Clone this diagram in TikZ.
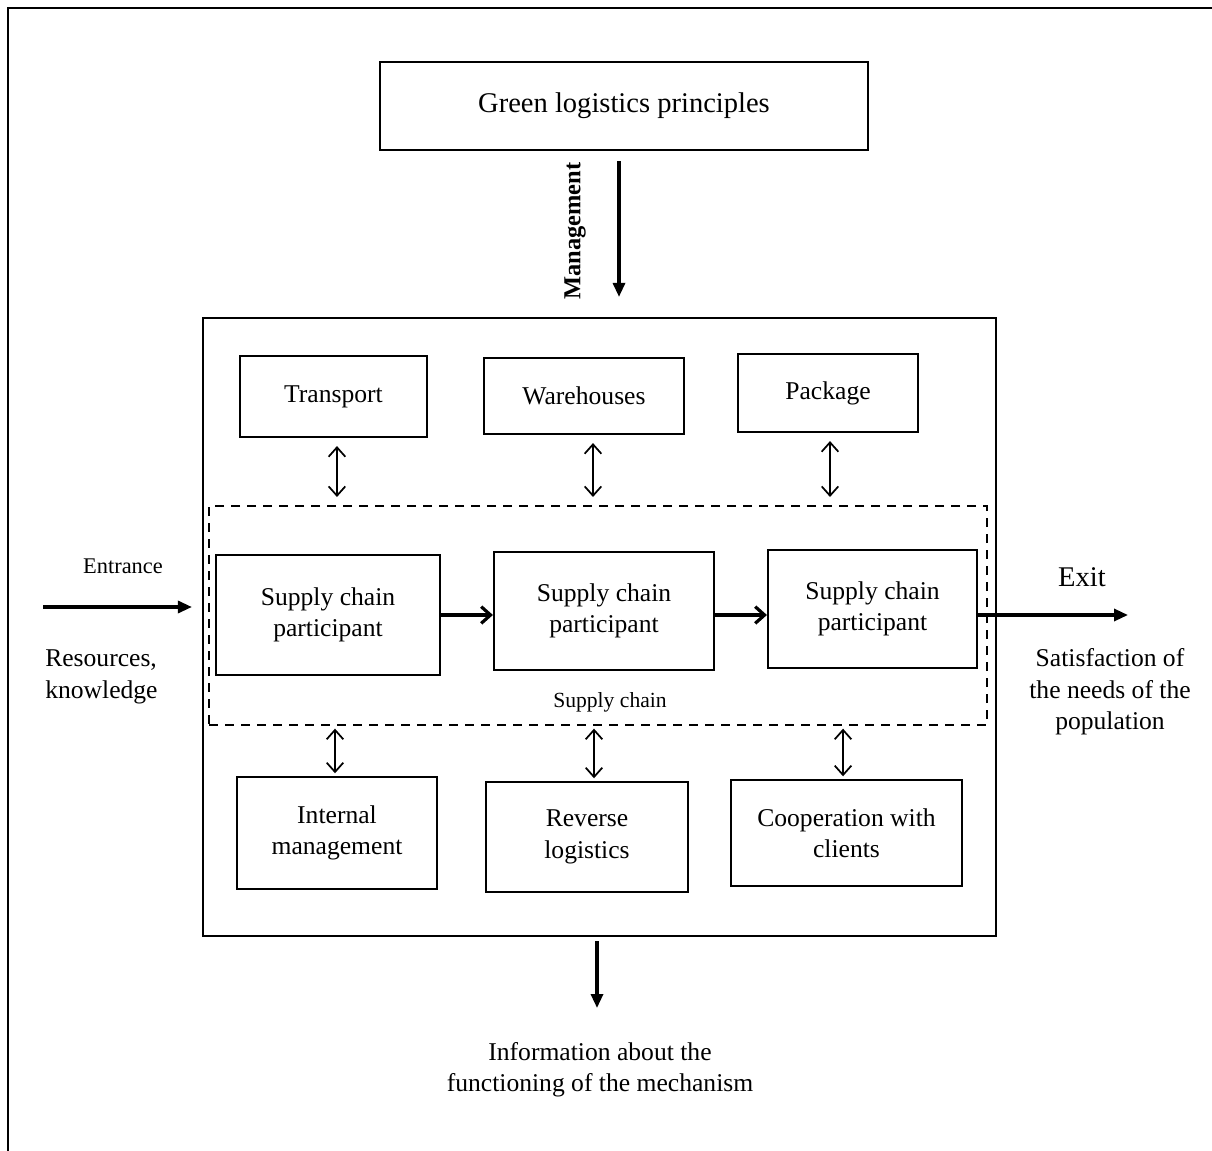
\documentclass[tikz,border=0pt]{standalone}
\usepackage{fontspec}
\setmainfont{Liberation Serif}
\usepackage{xcolor}
\usetikzlibrary{arrows.meta}

\newcommand{\bigtext}{\fontsize{21.4}{26}\selectfont}
\newcommand{\maintext}{\fontsize{19.2}{23.5}\selectfont}
\newcommand{\smalltext}{\fontsize{16.2}{20}\selectfont}

\begin{document}
\begin{tikzpicture}[x=0.75pt, y=-0.75pt,
    box/.style={draw, rectangle, line width=1.6pt, align=center, font=\maintext},
    flow/.style={-{Triangle[length=10.5pt, width=9pt]}, line width=2.4pt},
    link/.style={-{Straight Barb[length=7pt, width=12.5pt]}, line width=2.4pt},
    both/.style={{Straight Barb[length=7pt, width=12.5pt]}-{Straight Barb[length=7pt, width=12.5pt]}, line width=1.3pt},
    lbl/.style={align=center, font=\maintext, inner sep=0pt}]
    \useasboundingbox (0,0) rectangle (1212,1151);

    % Frame
    \draw[line width=1.8pt] (8,1151) -- (8,8) -- (1212,8);

    % Principles
    \node[box, minimum width=366pt, minimum height=66pt, font=\bigtext] (green) at (624,106) {Green logistics principles};

    % Mechanism
    \node[box, minimum width=594.75pt, minimum height=463.5pt] (mech) at (599.5,627) {};

    % Top row
    \node[box, minimum width=140.25pt, minimum height=60.75pt] (trans) at (333.5,396.5) {Transport};
    \node[box, minimum width=150pt, minimum height=57pt] (ware) at (584,396) {Warehouses};
    \node[box, minimum width=135pt, minimum height=58.5pt] (pack) at (828,393) {Package};

    % Supply chain
    \node[draw, line width=1.5pt, dash pattern=on 7pt off 5pt, minimum width=583.5pt, minimum height=164.25pt] (chain) at (598,615.5) {};
    \node[box, minimum width=168pt, minimum height=90pt] (p1) at (328,615) {Supply chain\\participant};
    \node[box, minimum width=165pt, minimum height=88.5pt] (p2) at (604,611) {Supply chain\\participant};
    \node[box, minimum width=156.75pt, minimum height=88.5pt] (p3) at (872.5,609) {Supply chain\\participant};
    \node[lbl, font=\smalltext] (chainlbl) at (610,702) {Supply chain};

    % Bottom row
    \node[box, minimum width=150pt, minimum height=84pt] (intern) at (337,833) {Internal\\management};
    \node[box, minimum width=151.5pt, minimum height=82.5pt] (rev) at (587,837) {Reverse\\logistics};
    \node[box, minimum width=173.25pt, minimum height=79.5pt] (coop) at (846.5,833) {Cooperation with\\clients};

    % Labels
    \node[lbl, rotate=90, font=\bfseries\fontsize{18.3}{22}\selectfont] (mgmt) at (575,231) {Management};
    \node[lbl, font=\fontsize{16.8}{20}\selectfont] (entr) at (123,566) {Entrance};
    \node[lbl, anchor=west, align=left] (res) at (45,677) {Resources,\\knowledge};
    \node[lbl, font=\bigtext] (exit) at (1082,577) {Exit};
    \node[lbl] (sat) at (1110,692) {Satisfaction of\\the needs of the\\population};
    \node[lbl] (info) at (600,1070) {Information about the\\functioning of the mechanism};

    % End points
    \coordinate (mx) at (619,0);
    \coordinate (entstart) at (43,607);
    \coordinate (exitend) at (1128,615);
    \coordinate (infoend) at (597,1008);

    % Arrows
    \draw[flow, shorten <=7.5pt, shorten >=15pt] (green.south -| mx) -- (mech.north -| mx);
    \draw[flow, shorten >=7.5pt] (entstart) -- (mech.west |- entstart);
    \draw[flow] (p3.east |- exitend) -- (exitend);
    \draw[flow, shorten <=3pt] (mech.south -| infoend) -- (infoend);
    \draw[link] (p1.east) -- (p2.west |- p1.east);
    \draw[link] (p2.east |- p1.east) -- (p3.west |- p1.east);

    % Double arrows
    \draw[both, shorten <=6pt, shorten >=6pt] ([xshift=2.6pt]trans.south) -- ([xshift=2.6pt]trans.south |- chain.north);
    \draw[both, shorten <=6pt, shorten >=6pt] ([xshift=6.75pt]ware.south) -- ([xshift=6.75pt]ware.south |- chain.north);
    \draw[both, shorten <=6pt, shorten >=6pt] ([xshift=1.5pt]pack.south) -- ([xshift=1.5pt]pack.south |- chain.north);
    \draw[both, shorten <=2pt, shorten >=2pt] ([xshift=-1.5pt]intern.north |- chain.south) -- ([xshift=-1.5pt]intern.north);
    \draw[both, shorten <=2pt, shorten >=2pt] ([xshift=5.25pt]rev.north |- chain.south) -- ([xshift=5.25pt]rev.north);
    \draw[both, shorten <=2pt, shorten >=2pt] ([xshift=-2.6pt]coop.north |- chain.south) -- ([xshift=-2.6pt]coop.north);
\end{tikzpicture}
\end{document}
